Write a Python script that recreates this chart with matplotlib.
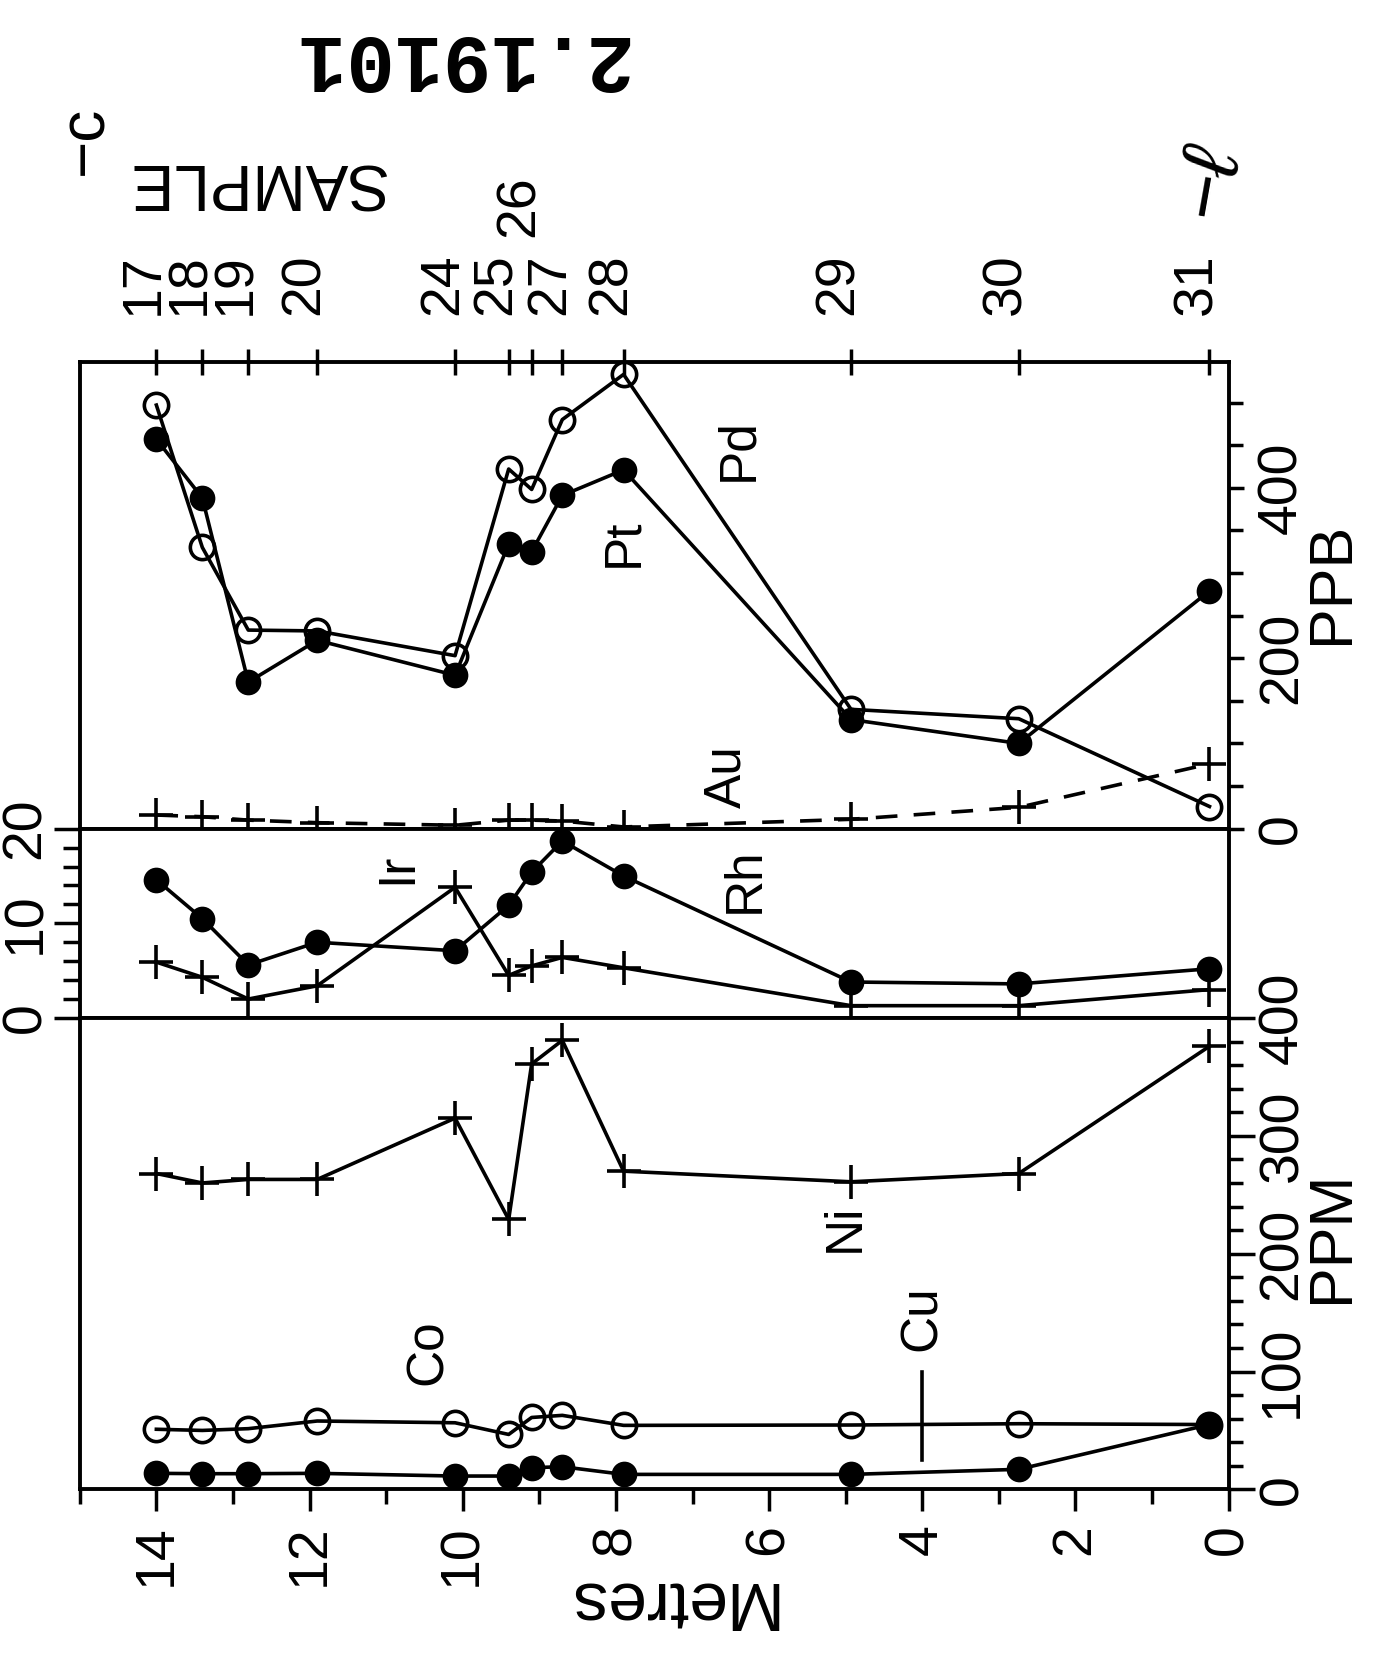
import matplotlib
matplotlib.use("Agg")
import matplotlib.pyplot as plt
import matplotlib.transforms as mtransforms

plt.rcParams['font.family'] = ['Liberation Sans', 'DejaVu Sans']

# sample numbers and their depth (metres)
samples = ['17', '18', '19', '20', '24', '25', '26', '27', '28', '29', '30', '31']
depth_m = [14.0, 13.4, 12.8, 11.9, 10.1, 9.4, 9.1, 8.7, 7.9, 4.93, 2.74, 0.25]

# PPB
pd_ppb = [497, 330, 233, 232, 203, 422, 398, 480, 533, 140, 129, 26]
pt_ppb = [457, 388, 172, 221, 180, 334, 325, 391, 421, 128, 100, 279]
au_ppb = [16, 14, 10, 7, 4, 10, 10, 9, 2, 11, 25, 76]
# Ir / Rh
rh_ppb = [14.6, 10.5, 5.6, 8.0, 7.1, 11.9, 15.4, 18.7, 15.0, 3.8, 3.6, 5.2]
ir_ppb = [5.9, 4.3, 2.0, 3.4, 13.8, 4.5, 5.5, 6.4, 5.3, 1.3, 1.3, 3.0]
# PPM
ni_ppm = [268, 260, 263, 263, 315, 229, 361, 381, 270, 261, 268, 376]
co_ppm = [51, 50, 51.5, 58, 56.5, 46.6, 61, 62.8, 54.3, 54.6, 55.7, 55]
cu_ppm = [13.6, 13.3, 13.3, 13.6, 11.3, 11.3, 18.4, 19.2, 12.7, 12.7, 17, 55]

metre_ticks = [0, 2, 4, 6, 8, 10, 12, 14]

LW = 2.6
SW = 2.8
TW = 2.5
TS = 40

fig = plt.figure(figsize=(13.85, 16.68), dpi=100)
ax_top = fig.add_axes([0.0576, 0.5032, 0.8295, 0.2800])
ax_mid = fig.add_axes([0.0576, 0.3897, 0.8295, 0.1135])
ax_bot = fig.add_axes([0.0576, 0.1071, 0.8295, 0.2826])

for ax in (ax_top, ax_mid, ax_bot):
    ax.set_xlim(15, 0)
    for s in ax.spines.values():
        s.set_linewidth(SW)

filled = dict(color='k', lw=LW, marker='o', ms=17, mfc='k', mec='k', mew=1.5)
opened = dict(color='k', lw=LW, marker='o', ms=17.5, mfc='none', mec='k', mew=2.6)
plus = dict(color='k', lw=LW, marker='+', ms=24, mew=2.6)

# ---- top panel: PPB
ax_top.plot(depth_m, pd_ppb, **opened)
ax_top.plot(depth_m, pt_ppb, **filled)
ax_top.plot(depth_m, au_ppb, dashes=(6, 4.5), **plus)
ax_top.set_ylim(0, 548)
ax_top.set_yticks([0, 200, 400])
ax_top.set_yticks(range(0, 548, 50), minor=True)
ax_top.yaxis.tick_right()
ax_top.tick_params(axis='y', which='major', direction='out', length=11, width=TW,
                   labelsize=TS, pad=9, labelrotation=90)
ax_top.tick_params(axis='y', which='minor', direction='out', length=10, width=TW)
for lab in ax_top.get_yticklabels():
    lab.set_va('center')

# sample axis on top: ticks, labels placed by hand (26 sits higher)
ax_top.xaxis.set_ticks_position('top')
ax_top.set_xticks(depth_m)
ax_top.set_xticklabels([])
ax_top.xaxis.set_minor_locator(matplotlib.ticker.NullLocator())
ax_top.tick_params(axis='x', which='major', direction='inout', length=19, width=TW)
trans = mtransforms.blended_transform_factory(ax_top.transData, ax_top.transAxes)
for d, s in zip(depth_m, samples):
    yy = 1.266 if s == '26' else 1.10
    ax_top.text(d + 0.16, yy, s, transform=trans, rotation=90,
                ha='center', va='bottom', fontsize=TS)

ax_top.text(7.9, 335, 'Pt', rotation=90, ha='center', va='center', fontsize=37)
ax_top.text(6.39, 445, 'Pd', rotation=90, ha='center', va='center', fontsize=37)
ax_top.text(6.55, 61, 'Au', rotation=90, ha='center', va='center', fontsize=37)

# ---- middle panel: Ir, Rh
ax_mid.plot(depth_m, rh_ppb, **filled)
ax_mid.plot(depth_m, ir_ppb, **plus)
ax_mid.set_ylim(0, 20)
ax_mid.set_yticks([0, 10, 20])
ax_mid.set_yticks(range(2, 20, 2), minor=True)
ax_mid.set_xticks([])
ax_mid.tick_params(axis='y', which='major', direction='out', length=19, width=TW,
                   labelsize=TS, pad=1, labelrotation=90)
ax_mid.tick_params(axis='y', which='minor', direction='out', length=12, width=TW)
for lab in ax_mid.get_yticklabels():
    lab.set_va('center')
ax_mid.text(10.85, 15.8, 'Ir', rotation=90, ha='center', va='center', fontsize=37)
ax_mid.text(6.31, 14.6, 'Rh', rotation=90, ha='center', va='center', fontsize=37)

# ---- bottom panel: PPM
ax_bot.plot(depth_m, ni_ppm, **plus)
ax_bot.plot(depth_m, co_ppm, **opened)
ax_bot.plot(depth_m, cu_ppm, **filled)
ax_bot.plot([4.0, 4.0], [25, 100], color='k', lw=LW)
ax_bot.set_ylim(0, 400)
ax_bot.set_yticks([0, 100, 200, 300, 400])
ax_bot.set_yticks(range(20, 400, 20), minor=True)
ax_bot.yaxis.tick_right()
ax_bot.tick_params(axis='y', which='major', direction='out', length=19, width=TW,
                   labelsize=TS, pad=1.5, labelrotation=90)
ax_bot.tick_params(axis='y', which='minor', direction='out', length=10, width=TW)
for lab in ax_bot.get_yticklabels():
    lab.set_va('center')

ax_bot.set_xticks(metre_ticks)
ax_bot.set_xticks(range(1, 16, 2), minor=True)
ax_bot.tick_params(axis='x', which='major', direction='out', length=16, width=TW,
                   labelsize=TS, pad=9, labelrotation=90)
ax_bot.tick_params(axis='x', which='minor', direction='out', length=11, width=TW)

ax_bot.text(5.0, 222, 'Ni', rotation=90, ha='center', va='center', fontsize=37)
ax_bot.text(10.45, 116, 'Co', rotation=90, ha='center', va='center', fontsize=37)
ax_bot.text(4.0, 145, 'Cu', rotation=90, ha='center', va='center', fontsize=37)

# ---- labels around the frame
fig.text(0.9624, 0.6505, 'PPB', rotation=90, ha='center', va='center', fontsize=44)
fig.text(0.9624, 0.2583, 'PPM', rotation=90, ha='center', va='center', fontsize=44)
fig.text(0.1843, 0.8916, 'SAMPLE', rotation=180, ha='center', va='center', fontsize=46)
fig.text(0.4823, 0.0402, 'Metres', rotation=180, ha='center', va='center', fontsize=50)

# stamp and handwritten marks
fig.text(0.330, 0.966, '2.19101', rotation=180, ha='center', va='center', fontsize=58,
         family='Liberation Mono', weight='bold')
fig.text(0.0614, 0.916, '\u2212c', rotation=90, ha='center', va='center', fontsize=46)
fig.text(0.873, 0.892, '\u2212\u2113', rotation=80, ha='center', va='center', fontsize=58,
         style='italic')

fig.savefig('out.png', dpi=100)
